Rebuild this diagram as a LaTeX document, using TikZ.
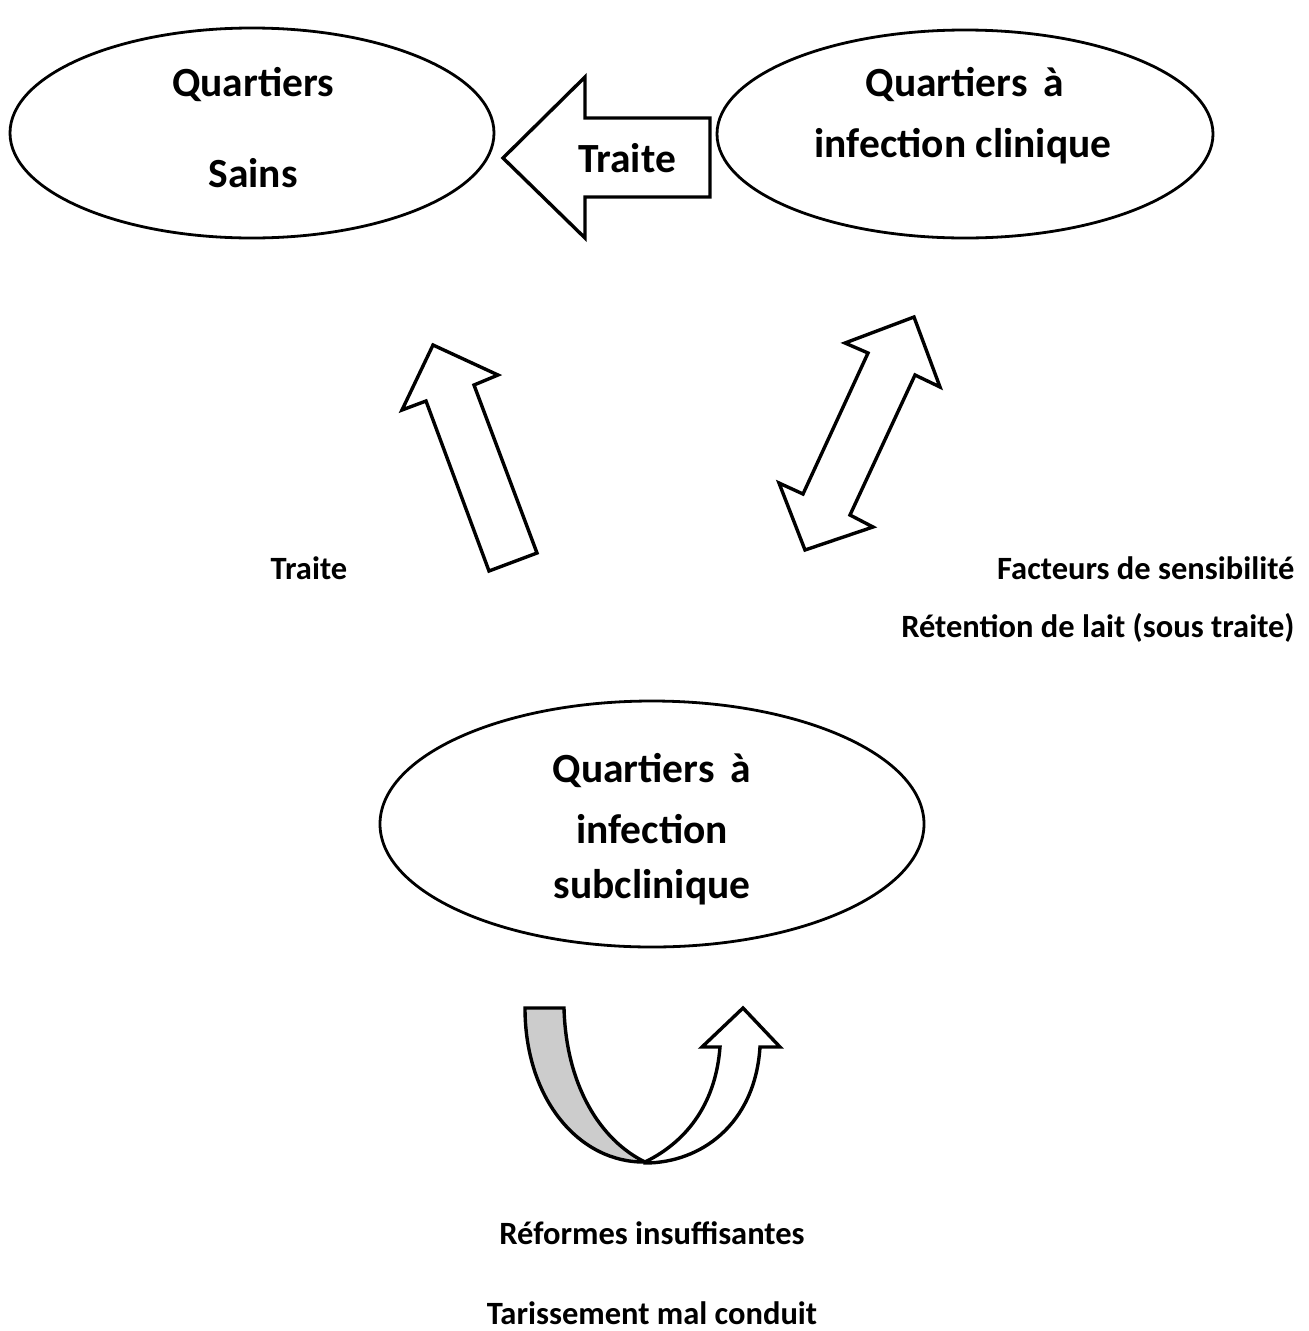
\documentclass[tikz,border=0pt]{standalone}
\usepackage{fontspec}
\setmainfont{Carlito}
\usetikzlibrary{shapes.geometric}
\tikzset{
  zone/.style={draw, ellipse, line width=2.8pt, inner sep=0pt},
  zonetext/.style={font=\fontsize{41.5}{48}\selectfont\bfseries},
  notetext/.style={font=\fontsize{32.5}{38}\selectfont\bfseries},
  blockarrow/.style={draw, line width=3.4pt, line join=miter, fill=#1},
  blockarrow/.default=white,
}
\begin{document}
\begin{tikzpicture}[x=1pt, y=-1pt]
  \useasboundingbox[fill=white] (0,0) rectangle (1309,1331);

  % the three groups of quarters
  \node[zone, minimum width=484pt, minimum height=210pt] (sains) at (252,133) {};
  \node[zone, minimum width=496pt, minimum height=208pt] (clinique) at (965,134) {};
  \node[zone, minimum width=544pt, minimum height=246pt] (subclin) at (652,824) {};

  \node[zonetext] (sainsA) at (253,85) {Quartiers};
  \node[zonetext] (sainsB) at (253,173) {Sains};
  \node[zonetext] (cliniqueA) at (965,85) {Quartiers \,à};
  \node[zonetext] (cliniqueB) at (963,146) {infection clinique};
  \node[zonetext] (subclinA) at (652,771) {Quartiers \,à};
  \node[zonetext] (subclinB) at (652,829) {infection};
  \node[zonetext] (subclinC) at (652,887) {subclinique};

  % block arrows
  \draw[blockarrow] (503,158) -- (585,77) -- (585,118) -- (710,118)
    -- (710,197) -- (585,197) -- (585,238) -- cycle;
  \node[zonetext] (traiteA) at (627,158) {Traite};

  \draw[blockarrow] (433,345) -- (498,375) -- (474,385) -- (537,553)
    -- (489,571) -- (426,401) -- (402,410) -- cycle;

  \draw[blockarrow] (914,317) -- (940,387) -- (915,375) -- (850,515)
    -- (873,527) -- (805,550) -- (779,483) -- (803,494) -- (868,353)
    -- (845,343) -- cycle;

  % turning arrow below
  \draw[blockarrow=black!20] (525,1008) -- (564,1008)
    .. controls (566,1085) and (600,1140) .. (645,1162)
    .. controls (580,1163) and (525,1100) .. cycle;
  \draw[blockarrow] (645,1162) .. controls (690,1140) and (716,1100) .. (720,1047)
    -- (702,1047) -- (743,1008) -- (780,1047) -- (760,1047)
    .. controls (755,1125) and (700,1163) .. (645,1163) -- cycle;

  % notes
  \node[notetext] (traiteB) at (309,568) {Traite};
  \node[notetext, anchor=east] (facteurs) at (1298,568) {Facteurs de sensibilité};
  \node[notetext, anchor=east] (retention) at (1298,628) {Rétention de lait (sous traite)};
  \node[notetext] (reformes) at (652,1233) {Réformes insuffisantes};
  \node[notetext, anchor=base] (tarissement) at (652,1324) {Tarissement mal conduit};
\end{tikzpicture}
\end{document}
